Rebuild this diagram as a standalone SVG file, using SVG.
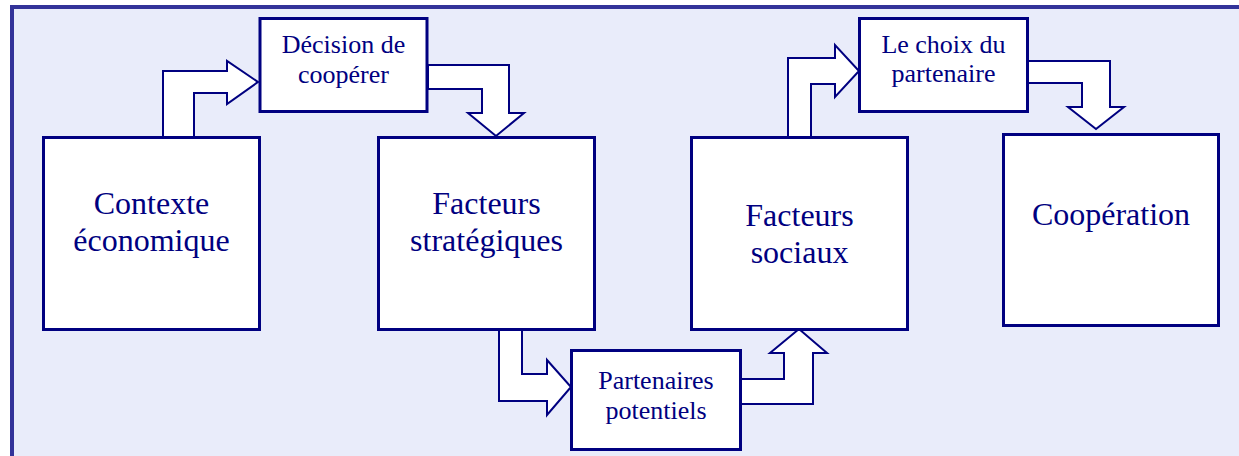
<svg xmlns="http://www.w3.org/2000/svg" width="1239" height="456" viewBox="0 0 1239 456">
<style>
.box{fill:#ffffff;stroke:#000080;stroke-width:3}
.arr{fill:#ffffff;stroke:#000080;stroke-width:2;stroke-linejoin:miter}
.big{font-family:"Liberation Serif","Times New Roman",serif;font-size:32px;fill:#000080;text-anchor:middle}
.sm{font-family:"Liberation Serif","Times New Roman",serif;font-size:26px;fill:#000080;text-anchor:middle}
</style>
<rect x="0" y="0" width="1239" height="456" fill="#ffffff"/>
<rect x="12" y="7" width="1240" height="460" fill="#E9ECFA" stroke="#333399" stroke-width="4"/>
<g id="connectors">
<polygon class="arr" points="163,137 163,71 227,71 227,61 258,82 227,104 227,93 194,93 194,137"/>
<polygon class="arr" points="428,65 509,65 509,113 524,113 496,136 468,113 482,113 482,89 428,89"/>
<polygon class="arr" points="499,329 499,401 547,401 547,415 571,387 547,360 547,374 522,374 522,329"/>
<polygon class="arr" points="741,379 784,379 784,353 770,353 799,329 827,353 813,353 813,404 741,404"/>
<polygon class="arr" points="788,137 788,58 835,58 835,45 859,71 835,97 835,84 811,84 811,137"/>
<polygon class="arr" points="1028,61 1110,61 1110,107 1124,107 1096,129 1068,107 1082,107 1082,83 1028,83"/>
</g>
<g id="contexte">
<rect class="box" x="43.5" y="137.5" width="216" height="192"/>
<text class="big" x="151.5" y="214">Contexte</text>
<text class="big" x="151.5" y="251">économique</text>
</g>
<g id="decision">
<rect class="box" x="260" y="18.5" width="167" height="93"/>
<text class="sm" x="343.5" y="53">Décision de</text>
<text class="sm" x="343.5" y="83">coopérer</text>
</g>
<g id="strategiques">
<rect class="box" x="378.5" y="137.5" width="216" height="192"/>
<text class="big" x="486.5" y="214">Facteurs</text>
<text class="big" x="486.5" y="251">stratégiques</text>
</g>
<g id="partenaires">
<rect class="box" x="571.5" y="350.5" width="169" height="99"/>
<text class="sm" x="656" y="389">Partenaires</text>
<text class="sm" x="656" y="419">potentiels</text>
</g>
<g id="sociaux">
<rect class="box" x="691.5" y="137.5" width="216" height="192"/>
<text class="big" x="799.5" y="226">Facteurs</text>
<text class="big" x="799.5" y="263">sociaux</text>
</g>
<g id="choix">
<rect class="box" x="859.5" y="18.5" width="168" height="93"/>
<text class="sm" x="943.5" y="53">Le choix du</text>
<text class="sm" x="943.5" y="82">partenaire</text>
</g>
<g id="cooperation">
<rect class="box" x="1003.5" y="134.5" width="215" height="191"/>
<text class="big" x="1111" y="225">Coopération</text>
</g>
</svg>
